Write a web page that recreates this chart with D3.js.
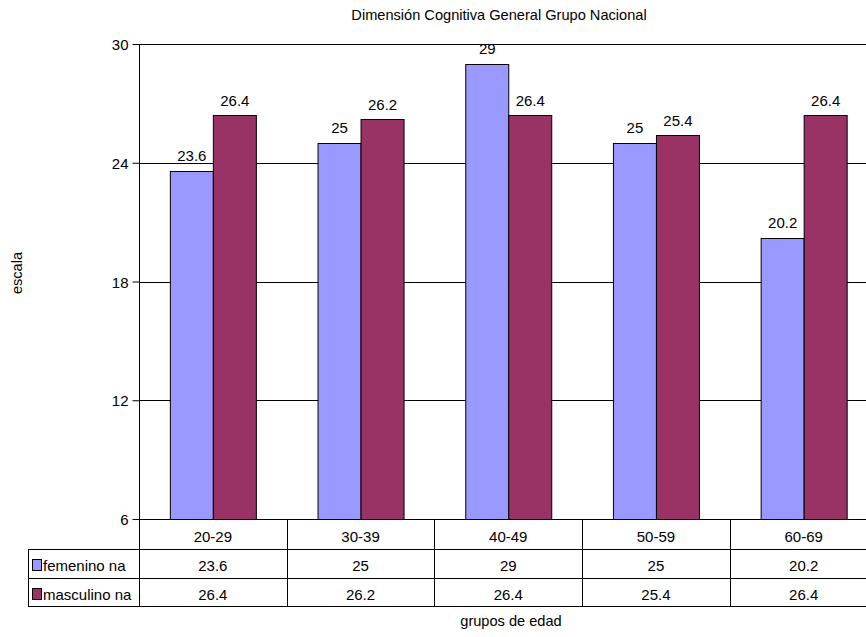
<!DOCTYPE html>
<html>
<head>
<meta charset="utf-8">
<script src="https://cdn.jsdelivr.net/npm/d3@7"></script>
<style>
  html, body { margin: 0; padding: 0; background: #fff; }
  svg { display: block; font-family: "Liberation Sans", Arial, Helvetica, sans-serif; }
</style>
</head>
<body>
<svg id="chart" width="866" height="637"></svg>
<script>
// Age groups and scores for each series
const categories = ["20-29", "30-39", "40-49", "50-59", "60-69"];
const femenino = [23.6, 25, 29, 25, 20.2];
const masculino = [26.4, 26.2, 26.4, 25.4, 26.4];
const seriesNames = ["femenino na", "masculino na"];
const seriesColors = ["#9999FF", "#993366"];
const yTicks = [6, 12, 18, 24, 30];
const chartTitle = "Dimensión Cognitiva General Grupo Nacional";
const yTitle = "escala";
const xTitle = "grupos de edad";

const series = [femenino, masculino];

const svg = d3.select("#chart");
const W = 866, H = 637;

// Plot frame
const plotLeft = 139, plotTop = 44, plotBottom = 519;
const colW = 147.7;
const plotRight = plotLeft + colW * categories.length;
const rowH = [30, 29, 28]; // category row, then one row per series
const tableLeft = 28;

const x = d3.scaleBand().domain(categories).range([plotLeft, plotRight]).paddingInner(0).paddingOuter(0);
const y = d3.scaleLinear().domain([6, 30]).range([plotBottom, plotTop]);
const barW = 43;
const inner = d3.scaleBand().domain(d3.range(series.length))
  .range([0, barW * series.length]);

const ink = "#000";

// Title
svg.append("text")
  .attr("x", 499).attr("y", 20)
  .attr("text-anchor", "middle")
  .attr("font-size", 14.6)
  .text(chartTitle);

// Horizontal gridlines
svg.append("g").selectAll("line")
  .data(yTicks.filter(t => t !== 6))
  .join("line")
  .attr("x1", plotLeft).attr("x2", W)
  .attr("y1", d => Math.round(y(d)) + 0.5).attr("y2", d => Math.round(y(d)) + 0.5)
  .attr("stroke", ink).attr("stroke-width", 1);

// Bars
const groups = svg.append("g").selectAll("g")
  .data(categories)
  .join("g")
  .attr("transform", d => `translate(${x(d) + (x.bandwidth() - barW * series.length) / 2},0)`);

groups.each(function(cat, ci) {
  const g = d3.select(this);
  series.forEach((s, si) => {
    const v = s[ci];
    g.append("rect")
      .attr("x", inner(si) + 0.5)
      .attr("y", Math.round(y(v)) + 0.5)
      .attr("width", barW)
      .attr("height", plotBottom - Math.round(y(v)))
      .attr("fill", seriesColors[si])
      .attr("stroke", ink).attr("stroke-width", 1);
    g.append("text")
      .attr("x", inner(si) + barW / 2 + 0.5)
      .attr("y", y(v) - 9.5)
      .attr("text-anchor", "middle")
      .attr("font-size", 15)
      .text(v);
  });
});

// Y axis
const yAxis = d3.axisLeft(y).tickValues(yTicks).tickSize(7).tickPadding(4).tickFormat(d3.format("d"));
const ax = svg.append("g")
  .attr("transform", `translate(${plotLeft + 0.5},0)`)
  .call(yAxis);
ax.select(".domain").remove();
ax.selectAll(".tick line").attr("stroke", ink);
ax.selectAll(".tick text").attr("font-size", 15).attr("fill", ink).attr("dy", "0.38em");
ax.attr("font-family", null).attr("font-size", null);

// Vertical axis line continues through the table
svg.append("line")
  .attr("x1", plotLeft + 0.5).attr("x2", plotLeft + 0.5)
  .attr("y1", plotTop).attr("y2", plotBottom + rowH[0] + rowH[1] + rowH[2] + 0.5)
  .attr("stroke", ink);

// Data table
const rowY = [plotBottom, plotBottom + rowH[0], plotBottom + rowH[0] + rowH[1], plotBottom + rowH[0] + rowH[1] + rowH[2]];

// Horizontal table rules
svg.append("line")
  .attr("x1", plotLeft).attr("x2", W)
  .attr("y1", rowY[0] + 0.5).attr("y2", rowY[0] + 0.5)
  .attr("stroke", ink);
[1, 2, 3].forEach(i => {
  svg.append("line")
    .attr("x1", tableLeft).attr("x2", W)
    .attr("y1", rowY[i] + 0.5).attr("y2", rowY[i] + 0.5)
    .attr("stroke", ink);
});
// Left edge of legend column
svg.append("line")
  .attr("x1", tableLeft + 0.5).attr("x2", tableLeft + 0.5)
  .attr("y1", rowY[1]).attr("y2", rowY[3] + 1)
  .attr("stroke", ink);
// Column separators
svg.append("g").selectAll("line")
  .data(categories.slice(1))
  .join("line")
  .attr("x1", d => Math.round(x(d)) + 0.5).attr("x2", d => Math.round(x(d)) + 0.5)
  .attr("y1", rowY[0]).attr("y2", rowY[3] + 1)
  .attr("stroke", ink);

// Category labels
svg.append("g").selectAll("text")
  .data(categories)
  .join("text")
  .attr("x", d => x(d) + x.bandwidth() / 2)
  .attr("y", rowY[0] + 23)
  .attr("text-anchor", "middle")
  .attr("font-size", 15)
  .text(d => d);

// Series rows: legend key, name and values
series.forEach((s, si) => {
  const base = rowY[si + 1] + 22;
  svg.append("rect")
    .attr("x", 32.5).attr("y", base - 11.5)
    .attr("width", 9).attr("height", 11)
    .attr("fill", seriesColors[si])
    .attr("stroke", ink).attr("stroke-width", 1);
  svg.append("text")
    .attr("x", 43).attr("y", base)
    .attr("font-size", 15)
    .text(seriesNames[si]);
  svg.append("g").selectAll("text")
    .data(s)
    .join("text")
    .attr("x", (d, i) => x(categories[i]) + x.bandwidth() / 2)
    .attr("y", base)
    .attr("text-anchor", "middle")
    .attr("font-size", 15)
    .text(d => d);
});

// Axis titles
svg.append("text")
  .attr("transform", "translate(22,273) rotate(-90)")
  .attr("text-anchor", "middle")
  .attr("font-size", 14.6)
  .text(yTitle);

svg.append("text")
  .attr("x", 511).attr("y", 626)
  .attr("text-anchor", "middle")
  .attr("font-size", 14.6)
  .text(xTitle);
</script>
</body>
</html>
